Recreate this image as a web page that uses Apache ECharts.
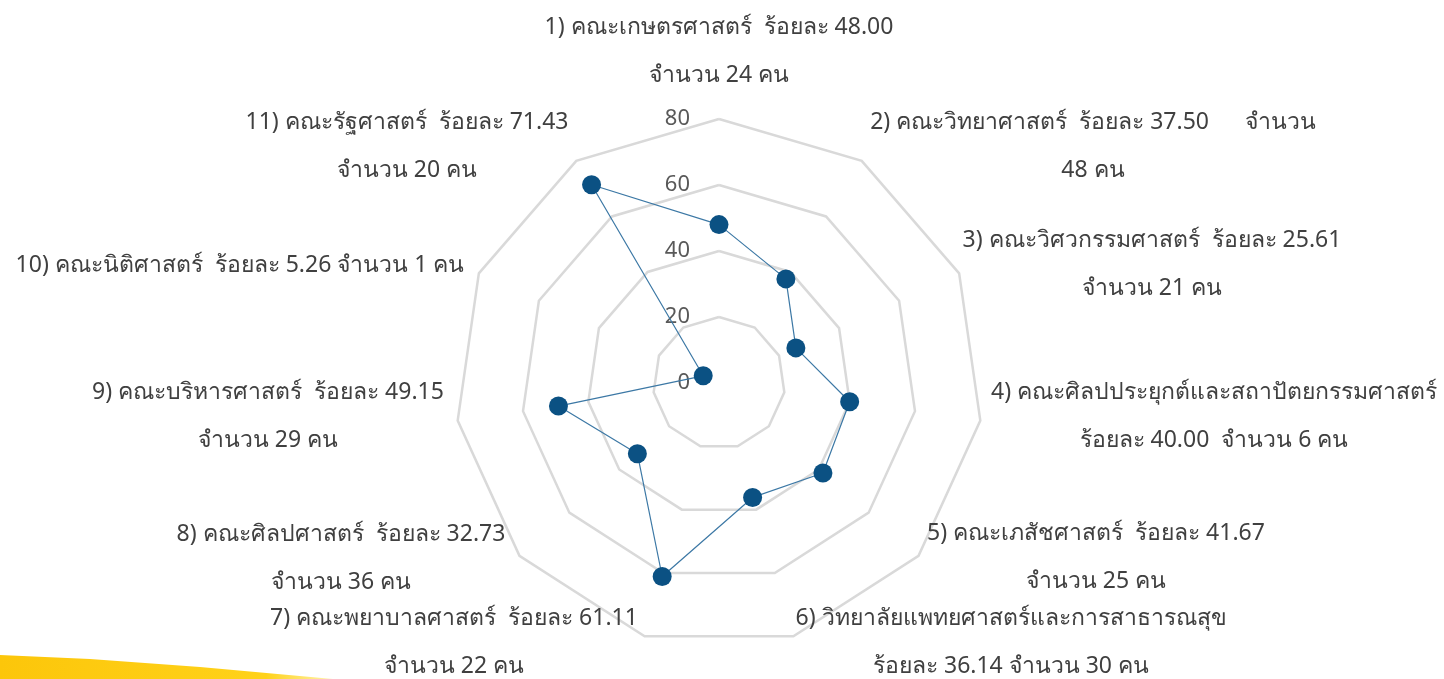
<!DOCTYPE html>
<html>
<head>
<meta charset="utf-8">
<script src="https://cdn.jsdelivr.net/npm/echarts@6/dist/echarts.min.js"></script>
<style>
html, body { margin: 0; padding: 0; background: #fff; }
#main { width: 1444px; height: 679px; }
</style>
</head>
<body>
<div id="main"></div>
<script>
var faculties = ['คณะเกษตรศาสตร์', 'คณะวิทยาศาสตร์', 'คณะวิศวกรรมศาสตร์',
    'คณะศิลปประยุกต์และสถาปัตยกรรมศาสตร์', 'คณะเภสัชศาสตร์',
    'วิทยาลัยแพทยศาสตร์และการสาธารณสุข', 'คณะพยาบาลศาสตร์', 'คณะศิลปศาสตร์',
    'คณะบริหารศาสตร์', 'คณะนิติศาสตร์', 'คณะรัฐศาสตร์'];
var percents = [48.00, 37.50, 25.61, 40.00, 41.67, 36.14, 61.11, 32.73, 49.15, 5.26, 71.43];
var counts = [24, 48, 21, 6, 25, 30, 22, 36, 29, 1, 20];
var axisMax = 80;

// label placement (center x, center y, wrap style)
var labelPos = [
    [719, 51, 'a'], [1093, 146, 'd'], [1152, 264, 'a'], [1214, 416, 'b'],
    [1096, 557, 'a'], [1011, 642, 'b2'], [454, 642, 'a'], [341, 558, 'a'],
    [268, 416, 'a'], [240, 265, 'c'], [407, 146, 'a']
];

function labelText(i) {
    var head = (i + 1) + ') ' + faculties[i];
    var pct = 'ร้อยละ ' + percents[i].toFixed(2);
    var cnt = 'จำนวน ' + counts[i] + ' คน';
    var mode = labelPos[i][2];
    if (mode === 'a') return head + '  ' + pct + '\n' + cnt;
    if (mode === 'b') return head + '\n' + pct + '  ' + cnt;
    if (mode === 'b2') return head + '\n' + pct + ' ' + cnt;
    if (mode === 'c') return head + '  ' + pct + ' ' + cnt;
    return head + '  ' + pct + '      จำนวน\n' + counts[i] + ' คน';
}

// clockwise order: 1 at top, then 2 to the right
var order = [0];
for (var k = faculties.length - 1; k >= 1; k--) order.push(k);

var indicators = order.map(function (i, n) {
    var ind = { name: faculties[i], max: axisMax, min: 0 };
    if (n === 0) ind.axisLabel = { show: true };
    return ind;
});

var fontFam = '"Noto Sans", "DejaVu Sans", sans-serif';

var graphics = [{
    type: 'polygon',
    shape: { points: [[0, 655], [90, 659], [200, 667], [333, 679], [0, 679]] },
    style: {
        fill: new echarts.graphic.LinearGradient(0, 0, 1, 0, [
            { offset: 0, color: '#fcc60a' },
            { offset: 0.8, color: '#ffd21a' },
            { offset: 1, color: '#fff3b0' }
        ])
    },
    z: 0
}];
faculties.forEach(function (f, i) {
    graphics.push({
        type: 'text',
        x: labelPos[i][0],
        y: labelPos[i][1],
        style: {
            text: labelText(i),
            fill: '#404040',
            font: '23px ' + fontFam,
            lineHeight: 48,
            textAlign: 'center',
            textVerticalAlign: 'middle'
        },
        z: 10
    });
});

var option = {
    backgroundColor: '#fff',
    animation: false,
    graphic: graphics,
    radar: {
        center: [719, 383],
        radius: 264,
        startAngle: 90,
        splitNumber: 4,
        shape: 'polygon',
        indicator: indicators,
        axisName: { show: false },
        axisLine: { show: false },
        axisTick: { show: false },
        axisLabel: {
            show: false,
            color: '#595959',
            fontSize: 22,
            fontFamily: fontFam,
            margin: 29
        },
        splitLine: { lineStyle: { color: '#d9d9d9', width: 2.5 } },
        splitArea: { show: false }
    },
    series: [{
        type: 'radar',
        symbol: 'circle',
        symbolSize: 19,
        itemStyle: { color: '#0b5183' },
        lineStyle: { color: '#3c78a5', width: 1.2 },
        data: [{ value: order.map(function (i) { return percents[i]; }) }]
    }]
};

var myChart = echarts.init(document.getElementById('main'));
myChart.setOption(option);
</script>
</body>
</html>
